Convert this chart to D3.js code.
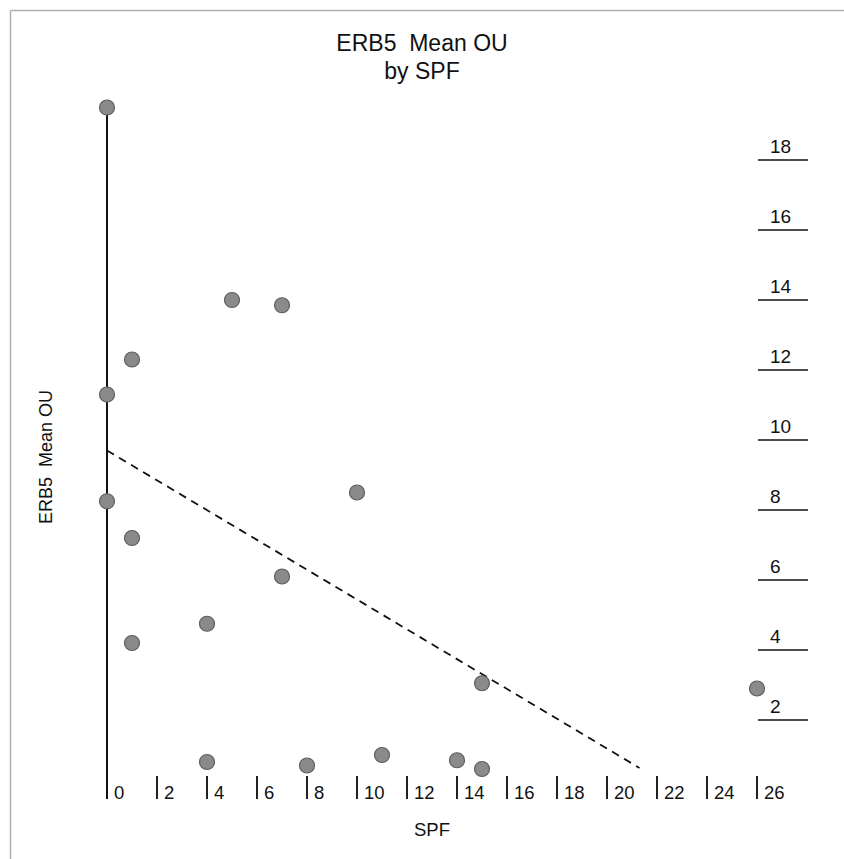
<!DOCTYPE html>
<html><head><meta charset="utf-8">
<script src="https://cdn.jsdelivr.net/npm/d3@7/dist/d3.min.js"></script>
<style>body{margin:0;background:#fff;} svg{display:block;font-family:"Liberation Sans",Arial,sans-serif;} text{white-space:pre;}</style>
</head><body>
<script>
const spf = [0, 5, 7, 1, 0, 0, 10, 1, 7, 4, 1, 15, 26, 4, 8, 11, 14, 15];
const meanOU = [19.5, 14.0, 13.85, 12.3, 11.3, 8.25, 8.5, 7.2, 6.1, 4.75, 4.2, 3.05, 2.9, 0.8, 0.7, 1.0, 0.85, 0.6];
const trendX = [0, 21.3];
const trendY = [9.7, 0.63];
const xTicks = [0, 2, 4, 6, 8, 10, 12, 14, 16, 18, 20, 22, 24, 26];
const yTicks = [2, 4, 6, 8, 10, 12, 14, 16, 18];
const titleLines = ["ERB5  Mean OU", "by SPF"];
const xTitle = "SPF", yTitle = "ERB5  Mean OU";

const W = 844, H = 859;
const svg = d3.select("body").append("svg").attr("width", W).attr("height", H);
const x = d3.scaleLinear().domain([0, 26]).range([107, 757]);
const y = d3.scaleLinear().domain([0, 18]).range([790, 160]);

// frame lines (top and left)
svg.append("line").attr("x1", 10.5).attr("x2", W).attr("y1", 10.5).attr("y2", 10.5).attr("stroke", "#b0b0b0").attr("stroke-width", 1.5);
svg.append("line").attr("x1", 10.5).attr("x2", 10.5).attr("y1", 10.5).attr("y2", H).attr("stroke", "#b0b0b0").attr("stroke-width", 1.5);

// titles
svg.selectAll("text.title").data(titleLines).enter().append("text")
  .attr("class", "title").attr("x", 422).attr("y", (d, i) => 51 + i * 28)
  .attr("text-anchor", "middle").attr("font-size", 23).attr("fill", "#111").text(d => d);

// vertical axis line at x=0
svg.append("line").attr("x1", x(0)).attr("x2", x(0)).attr("y1", y(19.5)).attr("y2", 799)
  .attr("stroke", "#111").attr("stroke-width", 2);

// x axis ticks
const xg = svg.append("g").selectAll("g").data(xTicks).enter().append("g");
xg.append("line").attr("x1", d => x(d)).attr("x2", d => x(d)).attr("y1", 776).attr("y2", 799)
  .attr("stroke", "#222").attr("stroke-width", d => d === 0 ? 0 : 2);
xg.append("text").attr("x", d => x(d) + 7).attr("y", 799).attr("font-size", 18.5).attr("fill", "#111").text(d => d);

// y axis ticks (right side)
const yg = svg.append("g").selectAll("g").data(yTicks).enter().append("g");
yg.append("line").attr("x1", 758).attr("x2", 808).attr("y1", d => y(d)).attr("y2", d => y(d))
  .attr("stroke", "#111").attr("stroke-width", 1.5);
yg.append("text").attr("x", 770).attr("y", d => y(d) - 7).attr("font-size", 19).attr("fill", "#111").text(d => d);

// trend line
svg.append("line").attr("x1", x(trendX[0])).attr("y1", y(trendY[0])).attr("x2", x(trendX[1])).attr("y2", y(trendY[1]))
  .attr("stroke", "#111").attr("stroke-width", 1.8).attr("stroke-dasharray", "8,6");

// points
svg.append("g").selectAll("circle").data(spf.map((d, i) => [d, meanOU[i]])).enter().append("circle")
  .attr("cx", d => x(d[0])).attr("cy", d => y(d[1])).attr("r", 7.5)
  .attr("fill", "#8a8a8a").attr("stroke", "#5e5e5e").attr("stroke-width", 1.2);

// axis titles
svg.append("text").attr("x", 432).attr("y", 836).attr("text-anchor", "middle").attr("font-size", 18.5).attr("fill", "#111").text(xTitle);
svg.append("text").attr("transform", "translate(52,457) rotate(-90)").attr("text-anchor", "middle")
  .attr("font-size", 18).attr("fill", "#111").text(yTitle);
</script>
</body></html>
